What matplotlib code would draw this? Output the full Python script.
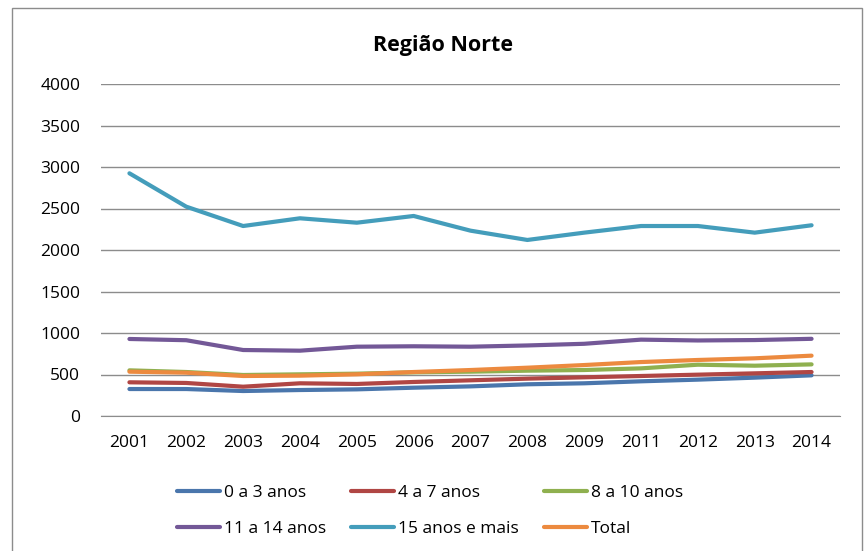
import matplotlib
matplotlib.use("Agg")
import matplotlib.pyplot as plt
from matplotlib.patches import Rectangle

years = ["2001", "2002", "2003", "2004", "2005", "2006", "2007", "2008", "2009", "2011", "2012", "2013", "2014"]
a0_3 = [325, 325, 301, 313, 321, 341, 357, 382, 394, 418, 438, 462, 490]
a4_7 = [406, 398, 353, 394, 386, 410, 430, 450, 466, 482, 498, 514, 530]
a8_10 = [550, 530, 494, 502, 510, 526, 534, 546, 554, 574, 618, 606, 622]
a11_14 = [928, 913, 795, 787, 835, 840, 835, 850, 870, 920, 910, 915, 930]
a15 = [2924, 2522, 2289, 2382, 2329, 2410, 2233, 2121, 2209, 2289, 2289, 2209, 2298]
total = [534, 522, 482, 486, 502, 530, 554, 582, 614, 650, 675, 695, 727]

series = [
    ("0 a 3 anos", a0_3, "#4A76AC"),
    ("4 a 7 anos", a4_7, "#B04644"),
    ("8 a 10 anos", a8_10, "#8FB04F"),
    ("11 a 14 anos", a11_14, "#735897"),
    ("15 anos e mais", a15, "#449DBB"),
    ("Total", total, "#EC8A3F"),
]
yticks = [0, 500, 1000, 1500, 2000, 2500, 3000, 3500, 4000]

plt.rcParams['font.family'] = ['Open Sans', 'DejaVu Sans']
W, H = 865, 551
fig = plt.figure(figsize=(W / 100, H / 100), dpi=100)

# outer chart border
fig.patches.append(Rectangle((12 / W, -0.01), (862 - 12) / W, (H - 8) / H + 0.01,
                             transform=fig.transFigure, fill=False,
                             edgecolor="#8c8c8c", linewidth=1.0))

ax = fig.add_axes([101 / W, 1 - 416 / H, (840 - 101) / W, (416 - 84) / H])
x = list(range(len(years)))
for name, vals, col in series:
    ax.plot(x, vals, color=col, linewidth=3.0, label=name, solid_capstyle="round")

ax.set_ylim(0, 4000)
ax.set_xlim(-0.5, len(years) - 0.5)
ax.set_yticks(yticks)
ax.set_xticks(x)
ax.set_xticklabels(years)
ax.grid(axis="y", color="#8c8c8c", linewidth=1.0)
ax.set_axisbelow(True)
for s in ["top", "right", "left"]:
    ax.spines[s].set_visible(False)
ax.spines["bottom"].set_color("#8c8c8c")
ax.tick_params(axis="both", length=0, labelsize=12.5, colors="black")
ax.tick_params(axis="y", pad=15)
ax.tick_params(axis="x", pad=14)

fig.text(443 / W, 1 - 45 / H, "Região Norte", ha="center", va="center",
         fontsize=15.5, fontweight="bold")

h, l = ax.get_legend_handles_labels()
order = [0, 3, 1, 4, 2, 5]
fig.legend([h[i] for i in order], [l[i] for i in order], loc="center",
           bbox_to_anchor=(430 / W, 1 - 511 / H),
           ncol=3, frameon=False, fontsize=12.5, handlelength=2.5,
           handletextpad=0.25, columnspacing=1.4, labelspacing=1.1)

fig.savefig("out.png", dpi=100)
